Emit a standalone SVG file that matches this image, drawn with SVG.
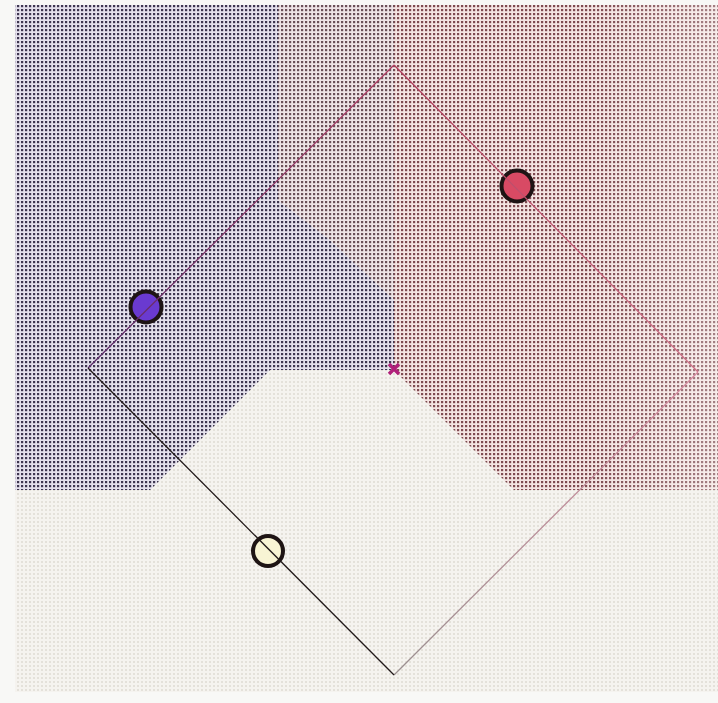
<svg xmlns="http://www.w3.org/2000/svg" width="718" height="703" viewBox="0 0 718 703">
  <defs>
    <pattern id="pPurple" width="4" height="4" patternUnits="userSpaceOnUse">
      <rect width="4" height="4" fill="#e4e0ec"/>
      <rect x="1" y="1" width="2.2" height="2.2" fill="#3e3650"/>
    </pattern>
    <pattern id="pBlend" width="4" height="4" patternUnits="userSpaceOnUse">
      <rect width="4" height="4" fill="#eee4e6"/>
      <rect x="1" y="1" width="2.2" height="2.2" fill="#6a5058"/>
    </pattern>
    <pattern id="pPink" width="4" height="4" patternUnits="userSpaceOnUse">
      <rect width="4" height="4" fill="#f4e4e2"/>
      <rect x="1" y="1" width="2.2" height="2.2" fill="#7e4a50"/>
    </pattern>
    <pattern id="pWhite" width="4" height="4" patternUnits="userSpaceOnUse">
      <rect width="4" height="4" fill="#f5f3ef"/>
      <rect x="1" y="1" width="2" height="2" fill="#e4e1da"/>
    </pattern>
    <linearGradient id="gRight" x1="0" y1="0" x2="1" y2="0">
      <stop offset="0" stop-color="#ffffff" stop-opacity="0"/>
      <stop offset="0.6" stop-color="#ffffff" stop-opacity="0"/>
      <stop offset="1" stop-color="#ffffff" stop-opacity="0.3"/>
    </linearGradient>
    <linearGradient id="gTL" x1="0" y1="1" x2="1" y2="0">
      <stop offset="0" stop-color="#5a2a6a"/>
      <stop offset="1" stop-color="#b03a60"/>
    </linearGradient>
    <linearGradient id="gTR" x1="0" y1="0" x2="1" y2="1">
      <stop offset="0" stop-color="#b03a5a"/>
      <stop offset="1" stop-color="#d07088"/>
    </linearGradient>
    <linearGradient id="gBR" x1="1" y1="0" x2="0" y2="1">
      <stop offset="0" stop-color="#d88aa0"/>
      <stop offset="1" stop-color="#9a9090"/>
    </linearGradient>
    <style>
      .edge { fill: none; stroke-width: 1.3; }
      .pt { stroke: #1e1414; stroke-width: 4; }
    </style>
  </defs>

  <rect width="718" height="703" fill="#f8f8f6"/>

  <g id="background">
    <rect x="15" y="5" width="703" height="687" fill="url(#pWhite)"/>
    <polygon points="15,5 278,5 278,200 330,240 394,300 394,370 270,370 150,490 15,490" fill="url(#pPurple)"/>
    <polygon points="278,5 394,5 394,300 330,240 278,200" fill="url(#pBlend)"/>
    <polygon points="394,5 718,5 718,490 514,490 394,370" fill="url(#pPink)"/>
    <rect x="394" y="5" width="324" height="485" fill="url(#gRight)"/>
  </g>

  <g id="node-red">
    <circle class="pt" cx="517" cy="186" r="15.5" fill="#d84a64"/>
  </g>
  <g id="node-purple">
    <circle class="pt" cx="146" cy="307" r="15.5" fill="#6a3ad0"/>
  </g>
  <g id="node-yellow">
    <circle class="pt" cx="268" cy="551" r="15" fill="#f8f4d4" stroke-width="4.5"/>
  </g>

  <g id="connectors">
    <line class="edge" x1="88" y1="368" x2="394" y2="65" stroke="url(#gTL)"/>
    <line class="edge" x1="394" y1="65" x2="698" y2="372" stroke="url(#gTR)"/>
    <line class="edge" x1="698" y1="372" x2="394" y2="675" stroke="url(#gBR)"/>
    <line class="edge" x1="394" y1="675" x2="88" y2="368" stroke="#221a1a"/>
  </g>

  <g id="node-center">
    <path d="M389,364 L399,374 M399,364 L389,374" stroke="#b0207a" stroke-width="3.5" fill="none"/>
  </g>
</svg>
